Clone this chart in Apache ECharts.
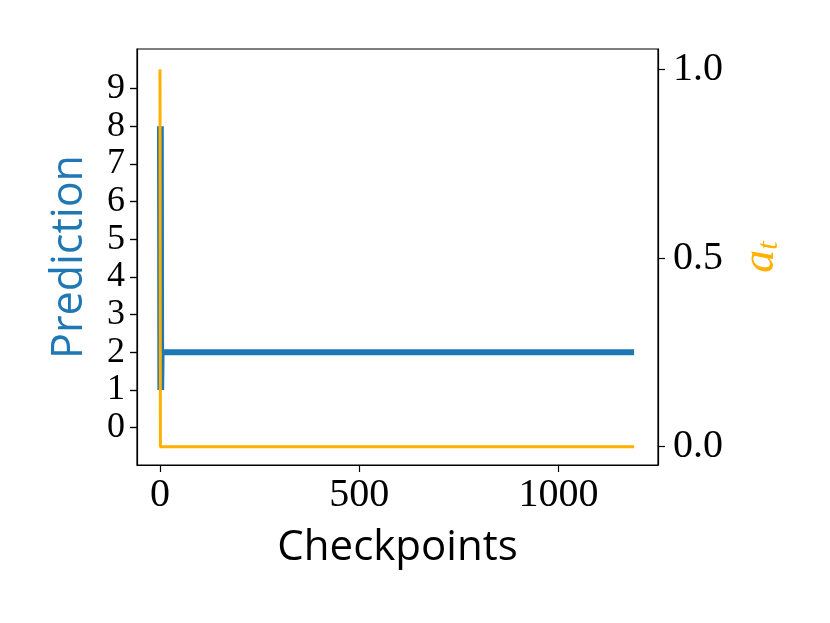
<!DOCTYPE html>
<html>
<head>
<meta charset="utf-8">
<script src="https://cdn.jsdelivr.net/npm/echarts@6/dist/echarts.min.js"></script>
<style>
html,body{margin:0;padding:0;background:#fff;}
#chart{width:830px;height:623px;}
</style>
</head>
<body>
<div id="chart"></div>
<script>
// Prediction series (change points; constant between the last two)
var predX = [0, 1, 2, 3, 4, 1190];
var predY = [8, 1, 8, 1, 2, 2];
// a_t series
var atX = [0, 1, 1190];
var atY = [1.0, 0.0, 0.0];
// tick labels
var xTicks = [0, 500, 1000];
var leftTicks = [0, 1, 2, 3, 4, 5, 6, 7, 8, 9];
var rightTicks = [0, 0.5, 1.0];

var serif = '"Liberation Serif", "DejaVu Serif", serif';
var sans = '"Open Sans", "DejaVu Sans", sans-serif';
var BLUE = '#1f77b4', ORANGE = '#ffb000';

function pairs(xs, ys){ return xs.map(function(x,i){ return [x, ys[i]]; }); }

var chart = echarts.init(document.getElementById('chart'), null, {renderer:'canvas'});
chart.setOption({
  animation: false,
  backgroundColor: '#fff',
  grid: {left: 137, right: 172, top: 49, bottom: 158, show: true, borderColor: '#000', borderWidth: 1.2, backgroundColor: 'transparent'},
  xAxis: {
    type: 'value', min: -57.7, max: 1250,
    name: 'Checkpoints', nameLocation: 'middle', nameGap: 62,
    nameTextStyle: {fontFamily: sans, fontSize: 42, color: '#000'},
    axisLine: {show: true, onZero: false, lineStyle: {color: '#000', width: 1.2}},
    axisTick: {show: true, inside: false, length: 7, lineStyle: {color: '#000', width: 1.2}, customValues: xTicks},
    axisLabel: {customValues: xTicks, fontFamily: serif, fontSize: 40, color: '#000', margin: 10,
      showMinLabel: true, showMaxLabel: true,
      formatter: function(v){ return String(v); }},
    splitLine: {show: false}
  },
  yAxis: [{
    type: 'value', min: -0.99, max: 10.05, position: 'left',
    name: 'Prediction', nameLocation: 'middle', nameGap: 46, nameRotate: 90,
    nameTextStyle: {fontFamily: sans, fontSize: 43, color: BLUE},
    axisLine: {show: true, onZero: false, lineStyle: {color: '#000', width: 1.2}},
    axisTick: {show: true, inside: false, length: 7, lineStyle: {color: '#000', width: 1.2}, customValues: leftTicks},
    axisLabel: {show: true, customValues: leftTicks, fontFamily: serif, fontSize: 36, color: '#000', margin: 12,
      showMinLabel: true, showMaxLabel: true,
      formatter: function(v){ return String(v); }},
    splitLine: {show: false}
  }, {
    type: 'value', min: -0.0485, max: 1.054, position: 'right',
    name: '{a|a}{t|t}', nameLocation: 'middle', nameGap: 80, nameRotate: 90,
    nameTextStyle: {color: ORANGE, rich: {
      a: {fontFamily: serif, fontStyle: 'italic', fontSize: 46, color: ORANGE},
      t: {fontFamily: serif, fontStyle: 'italic', fontSize: 30, color: ORANGE, verticalAlign: 'bottom', padding: [14,0,0,0]}
    }},
    axisLine: {show: true, onZero: false, lineStyle: {color: '#000', width: 1.2}},
    axisTick: {show: true, inside: false, length: 7, lineStyle: {color: '#000', width: 1.2}, customValues: rightTicks},
    axisLabel: {customValues: rightTicks, fontFamily: serif, fontSize: 40, color: '#000', margin: 15,
      showMinLabel: true, showMaxLabel: true,
      formatter: function(v){ return v.toFixed(1); }},
    splitLine: {show: false}
  }, {
    // tick-only companion of the Prediction axis
    type: 'value', min: -0.99, max: 10.05, position: 'left', offset: 0,
    axisLine: {show: false, onZero: false},
    axisTick: {show: true, inside: false, length: 7, lineStyle: {color: '#000', width: 1.2}, customValues: leftTicks},
    axisLabel: {show: false},
    splitLine: {show: false}
  }],
  series: [{
    type: 'line', yAxisIndex: 0, data: pairs(predX, predY), showSymbol: false, symbol: 'none',
    lineStyle: {color: BLUE, width: 6, cap: 'butt', join: 'miter'}, z: 2
  }, {
    type: 'line', yAxisIndex: 1, data: pairs(atX, atY), showSymbol: false, symbol: 'none',
    lineStyle: {color: ORANGE, width: 3, cap: 'butt'}, z: 3
  }]
});
</script>
</body>
</html>
